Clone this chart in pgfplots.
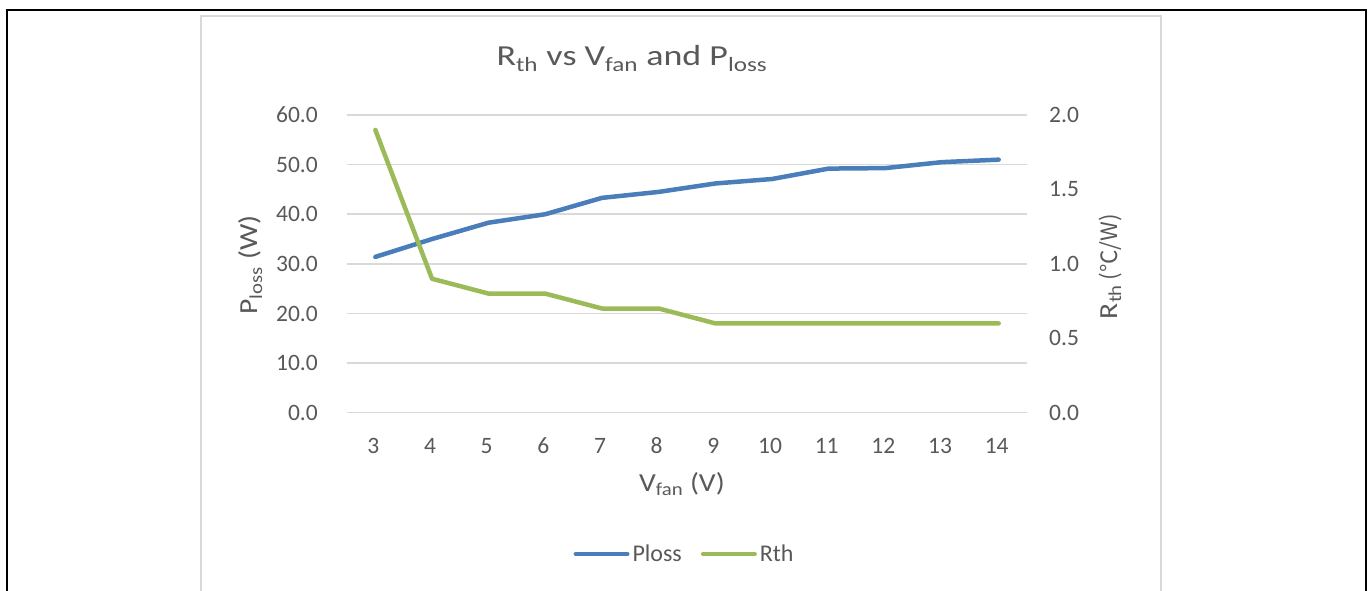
\documentclass[border=0pt]{standalone}
\usepackage{fontspec}
\setmainfont{Carlito}
\newfontfamily\cjk{Noto Sans CJK SC}
\usepackage{graphicx}
\usepackage{pgfplots}
\usepackage{pgfplotstable}
\pgfplotsset{compat=1.18}

\definecolor{txt}{HTML}{595959}
\definecolor{gridc}{HTML}{D9D9D9}
\definecolor{sblue}{HTML}{4A7EBB}
\definecolor{sgreen}{HTML}{9BBB59}

% the source text is a little wider than Carlito
\newcommand\hs[2]{\scalebox{#1}[1]{#2}}

% V_fan (V), P_loss (W), R_th (C/W)
\pgfplotstableread{
v  ploss rth
3  31.4  1.9
4  35.0  0.9
5  38.3  0.8
6  40.0  0.8
7  43.3  0.7
8  44.5  0.7
9  46.2  0.6
10 47.1  0.6
11 49.2  0.6
12 49.3  0.6
13 50.5  0.6
14 51.0  0.6
}\data

\pgfplotsset{
  base/.style={
    scale only axis, width=680pt, height=297.7pt,
    at={(347pt,177.3pt)}, anchor=south west,
    xmin=2.5, xmax=14.5, ymin=0,
    axis line style={draw=none}, major tick length=0pt, tick style={draw=none},
    tick label style={font=\fontsize{23.5}{28}\selectfont, text=txt, inner sep=0pt},
    /pgf/number format/assume math mode=true,
    yticklabel style={/pgf/number format/fixed, /pgf/number format/fixed zerofill,
      /pgf/number format/precision=1},
    label style={font=\fontsize{26}{30}\selectfont, text=txt, inner sep=0pt},
  },
  line/.style={line width=4.5pt, line cap=round, line join=round, no markers},
}

\begin{document}
\begin{tikzpicture}[x=1pt,y=1pt]
\useasboundingbox (0,0) rectangle (1370,590);
\draw[gridc, line width=2pt] (201,-3) -- (201,573.7) -- (1161,573.7) -- (1161,-3);
\draw[black, line width=2pt] (7,-3) -- (7,579.7) -- (1366,579.7) -- (1366,-3);

\begin{axis}[base,
  ymax=60, ytick={0,10,...,60},
  xtick={3,...,14},
  ymajorgrids, grid style={gridc, line width=1.5pt},
  xticklabel style={anchor=base, yshift=-40.3pt, xshift=-2pt},
  yticklabel style={anchor=east, xshift=-29pt},
  title={\hs{1.24}{R\textsubscript{th} vs V\textsubscript{fan} and P\textsubscript{loss}}},
  title style={at={(axis description cs:0.4191,1.1455)}, anchor=base,
    font=\fontsize{29}{34}\selectfont, text=txt, inner sep=0pt},
  xlabel={\hs{1.14}{V\textsubscript{fan} (V)}},
  xlabel style={at={(axis description cs:0.4926,-0.2654)}, anchor=base},
  ylabel={\hs{1.14}{P\textsubscript{loss} (W)}},
  ylabel style={at={(axis description cs:-0.1309,0.4961)}, anchor=base},
]
\addplot[line, sblue] table[x=v, y=ploss] {\data};
\end{axis}

\begin{axis}[base,
  ymax=2, ytick={0,0.5,...,2},
  hide x axis,
  yticklabel pos=right,
  yticklabel style={anchor=west, xshift=22pt},
  ylabel={\hs{1.14}{R\textsubscript{th}}\,{\fontsize{22.5}{26}\cjk (℃/W)}},
  ylabel style={at={(axis description cs:1.1324,0.4911)}, anchor=base},
  legend columns=2,
  legend style={at={(axis description cs:0.4949,-0.4746)}, anchor=center,
    draw=none, fill=none, font=\fontsize{24}{28}\selectfont, text=txt,
    inner sep=0pt, nodes={inner sep=0pt},
    /tikz/every even column/.append style={column sep=19pt},
    /tikz/every odd column/.append style={column sep=3pt}},
  legend image code/.code={\draw[#1] (2.25pt,0pt) -- (53.75pt,0pt);},
]
\addlegendimage{line, sblue}
\addlegendentry{Ploss}
\addplot[line, sgreen] table[x=v, y=rth] {\data};
\addlegendentry{Rth}
\end{axis}
\end{tikzpicture}
\end{document}
